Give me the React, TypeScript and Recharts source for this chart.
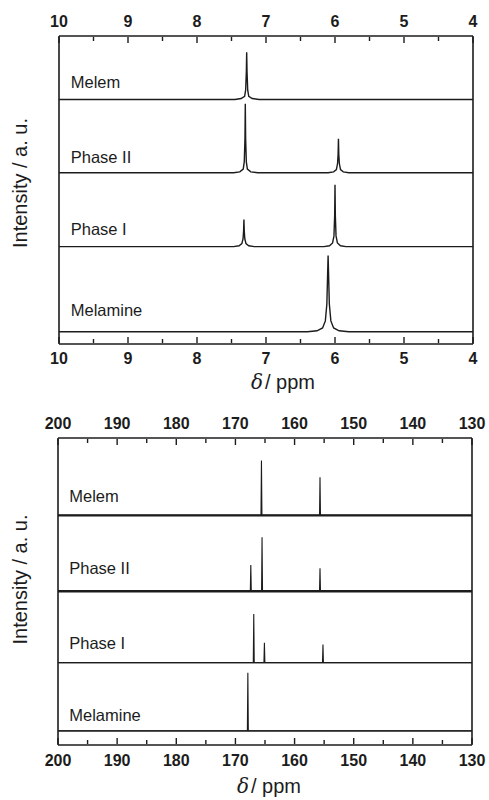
import React from 'react';
import { ComposedChart, Line, XAxis, YAxis, ReferenceDot, Label } from 'recharts';

type Pt = [number, number];

// ---------- 1H panel ----------
const hMajorTicks = [10, 9, 8, 7, 6, 5, 4];
const hMinorTicks = [9.5, 8.5, 7.5, 6.5, 5.5, 4.5];
const hNames = ['Melem', 'Phase II', 'Phase I', 'Melamine'];
const hOffsets = [79.4, 55.6, 31.6, 4.0];
const hLabelLift = [5.7, 5.1, 5.7, 7.0];

const hMelem: Pt[] = [
  [10, 0], [7.45, 0], [7.36, 0.3], [7.31, 1.0], [7.295, 3], [7.285, 9], [7.28, 15.3],
  [7.275, 9], [7.265, 3], [7.25, 1.0], [7.2, 0.3], [7.1, 0], [4, 0],
];
const hPhase2: Pt[] = [
  [10, 0], [7.47, 0], [7.38, 0.3], [7.33, 1.2], [7.315, 3.5], [7.305, 11], [7.3, 22.4],
  [7.295, 11], [7.285, 3.5], [7.27, 1.2], [7.22, 0.3], [7.12, 0],
  [6.1, 0], [6.02, 0.3], [5.98, 1.0], [5.963, 3], [5.955, 6], [5.95, 11.0],
  [5.945, 6], [5.937, 3], [5.92, 1.0], [5.88, 0.3], [5.8, 0], [4, 0],
];
const hPhase1: Pt[] = [
  [10, 0], [7.47, 0], [7.39, 0.3], [7.35, 1.0], [7.333, 2.5], [7.325, 5], [7.32, 8.8],
  [7.315, 5], [7.307, 2.5], [7.29, 1.0], [7.25, 0.3], [7.17, 0],
  [6.16, 0], [6.08, 0.3], [6.035, 1.2], [6.015, 3.5], [6.005, 10], [6.0, 20.1],
  [5.995, 10], [5.985, 3.5], [5.965, 1.2], [5.92, 0.3], [5.84, 0], [4, 0],
];
const hMelamine: Pt[] = [
  [10, 0], [6.4, 0], [6.26, 0.3], [6.18, 1.2], [6.14, 3.5], [6.118, 9], [6.1, 24.7],
  [6.082, 9], [6.06, 3.5], [6.02, 1.2], [5.94, 0.3], [5.8, 0], [4, 0],
];
const hSpectra = [hMelem, hPhase2, hPhase1, hMelamine];

// ---------- 13C panel ----------
const cMajorTicks = [200, 190, 180, 170, 160, 150, 140, 130];
const cMinorTicks = [195, 185, 175, 165, 155, 145, 135];
const cNames = ['Melem', 'Phase II', 'Phase I', 'Melamine'];
const cOffsets = [74.8, 50.1, 26.8, 4.6];
const cLabelLift = [6.2, 7.5, 6.4, 5.2];
const cNoise = [2.4, 2.4, 1.3, 1.2];

const cMelem: Pt[] = [
  [200, 0], [165.68, 0], [165.6, 17.9], [165.52, 0], [155.78, 0], [155.7, 12.4], [155.62, 0], [130, 0],
];
const cPhase2: Pt[] = [
  [200, 0], [167.48, 0], [167.4, 8.5], [167.32, 0], [165.58, 0], [165.5, 17.6], [165.42, 0],
  [155.78, 0], [155.7, 7.5], [155.62, 0], [130, 0],
];
const cPhase1: Pt[] = [
  [200, 0], [166.98, 0], [166.9, 15.9], [166.82, 0], [165.18, 0], [165.1, 6.5], [165.02, 0],
  [155.28, 0], [155.2, 5.9], [155.12, 0], [130, 0],
];
const cMelamine: Pt[] = [
  [200, 0], [167.98, 0], [167.9, 18.9], [167.82, 0], [130, 0],
];
const cSpectra = [cMelem, cPhase2, cPhase1, cMelamine];

const FONT = '"Liberation Sans", Arial, Helvetica, sans-serif';
const INK = '#1c1c1c';

const rows = (spec: Pt[], off: number) => spec.map(([x, v]) => ({ x, y: v + off }));

function makeTick(side: 'top' | 'bottom', isMajor: (v: number) => boolean, gap: number) {
  return (props: any) => {
    const { x, payload } = props;
    const y = side === 'bottom' ? props.y - 1 : props.y + 1;
    const v = payload.value as number;
    const major = isMajor(v);
    const len = major ? 6 : 4;
    const dir = side === 'bottom' ? -1 : 1;
    const ty = side === 'bottom' ? y + gap : y - gap;
    return (
      <g>
        <line x1={x} x2={x} y1={y} y2={y + dir * len} stroke={INK} strokeWidth={1.4} />
        {major && (
          <text
            x={x}
            y={ty}
            textAnchor="middle"
            dominantBaseline="central"
            fontFamily={FONT}
            fontWeight="bold"
            fontSize={16}
            fill={INK}
          >
            {v}
          </text>
        )}
      </g>
    );
  };
}

interface PanelProps {
  domain: [number, number];
  major: number[];
  minor: number[];
  isMajor: (v: number) => boolean;
  names: string[];
  offsets: number[];
  lifts: number[];
  spectra: Pt[][];
  labelX: number;
  margin: { top: number; right: number; bottom: number; left: number };
  noise?: number[];
  yLabelShift: number;
  bottomGap: number;
  spectrumWidth: number;
  xLabelDx: number;
  xLabelDy: number;
}

function Panel(p: PanelProps) {
  const ticks = [...p.major, ...p.minor].sort((a, b) => a - b);
  const [lo, hi] = p.domain;
  const m = {
    top: p.margin.top - 1,
    bottom: p.margin.bottom - 1,
    left: p.margin.left - 1,
    right: p.margin.right - 1,
  };
  return (
    <ComposedChart width={489} height={400} margin={m}>
      <XAxis
        xAxisId="b"
        type="number"
        dataKey="x"
        domain={[lo, hi]}
        reversed
        allowDataOverflow
        ticks={ticks}
        interval={0}
        height={1}
        tickSize={0}
        tickMargin={0}
        tickLine={false}
        axisLine={{ stroke: INK, strokeWidth: 1.6 }}
        tick={makeTick('bottom', p.isMajor, p.bottomGap)}
      >
        <Label
          content={(lp: any) => {
            const vb = lp.viewBox;
            return (
              <text
                x={vb.x + vb.width / 2 + p.xLabelDx}
                y={vb.y + p.xLabelDy}
                textAnchor="middle"
                fontFamily={FONT}
                fontSize={20}
                fill={INK}
              >
                <tspan fontStyle="italic" fontFamily='"DejaVu Serif", "Liberation Serif", serif'>δ</tspan>
                <tspan dx={2}>/ ppm</tspan>
              </text>
            );
          }}
        />
      </XAxis>
      <XAxis
        xAxisId="t"
        orientation="top"
        type="number"
        dataKey="x"
        domain={[lo, hi]}
        reversed
        allowDataOverflow
        ticks={ticks}
        interval={0}
        height={1}
        tickSize={0}
        tickMargin={0}
        tickLine={false}
        axisLine={{ stroke: INK, strokeWidth: 1.6 }}
        tick={makeTick('top', p.isMajor, 16)}
      />
      <YAxis
        yAxisId="l"
        type="number"
        domain={[0, 100]}
        allowDataOverflow
        width={1}
        tick={false}
        tickLine={false}
        axisLine={{ stroke: INK, strokeWidth: 1.6 }}
      >
        <Label
          content={(lp: any) => {
            const vb = lp.viewBox;
            const cx = 20;
            const cy = vb.y + vb.height / 2 + p.yLabelShift;
            return (
              <text
                x={cx}
                y={cy}
                transform={`rotate(-90 ${cx} ${cy})`}
                textAnchor="middle"
                dominantBaseline="central"
                fontFamily={FONT}
                fontSize={20}
                fill={INK}
              >
                Intensity / a. u.
              </text>
            );
          }}
        />
      </YAxis>
      <YAxis
        yAxisId="r"
        orientation="right"
        type="number"
        domain={[0, 100]}
        allowDataOverflow
        width={1}
        tick={false}
        tickLine={false}
        axisLine={{ stroke: INK, strokeWidth: 1.6 }}
      />
      {p.noise &&
        p.offsets.map((off, i) => (
          <Line
            key={'n' + i}
            xAxisId="b"
            yAxisId="l"
            data={[{ x: hi, y: off }, { x: lo, y: off }]}
            dataKey="y"
            stroke={INK}
            strokeWidth={p.noise![i]}
            dot={false}
            isAnimationActive={false}
          />
        ))}
      {p.spectra.map((spec, i) => (
        <Line
          key={p.names[i]}
          xAxisId="b"
          yAxisId="l"
          data={rows(spec, p.offsets[i])}
          dataKey="y"
          type="linear"
          stroke={INK}
          strokeWidth={p.spectrumWidth}
          dot={false}
          isAnimationActive={false}
        />
      ))}
      {p.names.map((n, i) => (
        <ReferenceDot
          key={'lab' + n}
          xAxisId="b"
          yAxisId="l"
          x={p.labelX}
          y={p.offsets[i] + p.lifts[i]}
          r={0}
          shape={(sp: any) => (
            <text
              x={sp.cx}
              y={sp.cy}
              dominantBaseline="central"
              fontFamily={FONT}
              fontSize={16.5}
              fill={INK}
            >
              {n}
            </text>
          )}
        />
      ))}
    </ComposedChart>
  );
}

export default function App() {
  return (
    <div style={{ position: 'absolute', left: 0, top: 0, width: 489, height: 800, background: '#fff' }}>
      <Panel
        domain={[4, 10]}
        major={hMajorTicks}
        minor={hMinorTicks}
        isMajor={(v) => Number.isInteger(v)}
        names={hNames}
        offsets={hOffsets}
        lifts={hLabelLift}
        spectra={hSpectra}
        labelX={9.83}
        margin={{ top: 36, right: 16, bottom: 56, left: 59 }}
        yLabelShift={-7}
        bottomGap={15}
        spectrumWidth={1.4}
        xLabelDx={17}
        xLabelDy={45}
      />
      <Panel
        domain={[130, 200]}
        major={cMajorTicks}
        minor={cMinorTicks}
        isMajor={(v) => v % 10 === 0}
        names={cNames}
        offsets={cOffsets}
        lifts={cLabelLift}
        spectra={cSpectra}
        labelX={198.1}
        margin={{ top: 38, right: 17, bottom: 55, left: 58 }}
        noise={cNoise}
        yLabelShift={-12}
        bottomGap={16}
        spectrumWidth={1.1}
        xLabelDx={4}
        xLabelDy={48}
      />
    </div>
  );
}
